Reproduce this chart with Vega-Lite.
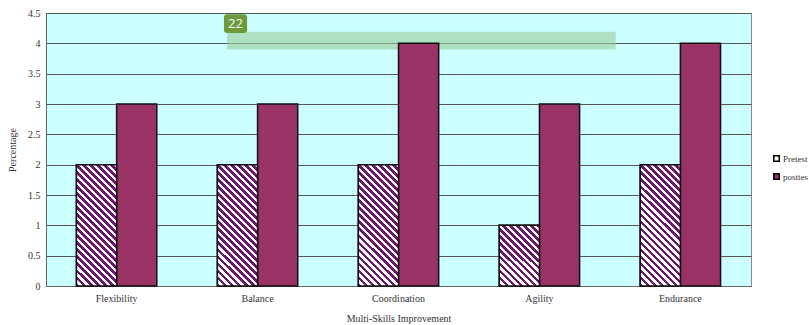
{
  "$schema": "https://vega.github.io/schema/vega-lite/v6.json",
  "width": 705,
  "height": 273,
  "autosize": "none",
  "padding": {"left": 46, "top": 13, "right": 58, "bottom": 39},
  "background": "#ffffff",
  "config": {
    "view": {"fill": "#ccffff", "stroke": "#888888", "strokeWidth": 1},
    "font": "Liberation Serif",
    "axis": {"labelFont": "Liberation Serif", "titleFont": "Liberation Serif", "labelFontSize": 10, "titleFontSize": 10, "titleFontWeight": "normal", "labelColor": "#333333", "titleColor": "#333333"},
    "axisY": {"tickCount": 9, "format": "~g", "ticks": false, "labelPadding": 6, "titlePadding": 10, "grid": true, "gridColor": "#555555", "gridWidth": 1, "gridOpacity": 1, "domainColor": "#666666"},
    "legend": {"labelFont": "Liberation Serif", "labelFontSize": 9, "labelColor": "#333333"}
  },
  "datasets": {
    "skills": [
      {"skill": "Flexibility", "series": "Pretest", "value": 2},
      {"skill": "Flexibility", "series": "posttes", "value": 3},
      {"skill": "Balance", "series": "Pretest", "value": 2},
      {"skill": "Balance", "series": "posttes", "value": 3},
      {"skill": "Coordination", "series": "Pretest", "value": 2},
      {"skill": "Coordination", "series": "posttes", "value": 4},
      {"skill": "Agility", "series": "Pretest", "value": 1},
      {"skill": "Agility", "series": "posttes", "value": 3},
      {"skill": "Endurance", "series": "Pretest", "value": 2},
      {"skill": "Endurance", "series": "posttes", "value": 4}
    ],
    "note": [{"label": "22"}]
  },
  "layer": [
    {
      "data": {"name": "note"},
      "layer": [
        {
          "mark": {"type": "rect", "fill": "#99cc99", "opacity": 0.6},
          "encoding": {
            "x": {"datum": 1.284, "type": "quantitative", "scale": {"domain": [0, 5]}, "axis": null},
            "x2": {"datum": 4.04},
            "y": {"datum": 3.9, "type": "quantitative", "scale": {"domain": [0, 4.5]}, "title": "Percentage"},
            "y2": {"datum": 4.19}
          }
        },
        {
          "mark": {"type": "rect", "fill": "#6b9a3a", "cornerRadius": 3},
          "encoding": {
            "x": {"datum": 1.262, "type": "quantitative", "scale": {"domain": [0, 5]}, "axis": null},
            "x2": {"datum": 1.426},
            "y": {"datum": 4.17, "type": "quantitative", "scale": {"domain": [0, 4.5]}, "title": "Percentage"},
            "y2": {"datum": 4.48}
          }
        },
        {
          "mark": {"type": "text", "font": "Open Sans", "fontSize": 13, "color": "#ffffff", "align": "center", "baseline": "middle"},
          "encoding": {
            "x": {"datum": 1.344, "type": "quantitative", "scale": {"domain": [0, 5]}, "axis": null},
            "y": {"datum": 4.325, "type": "quantitative", "scale": {"domain": [0, 4.5]}, "title": "Percentage"},
            "text": {"field": "label"}
          }
        }
      ]
    },
    {
      "data": {"name": "skills"},
      "layer": [
        {
          "mark": {"type": "bar", "stroke": "#111111", "strokeWidth": 1.5},
          "encoding": {
            "x": {"field": "skill", "type": "nominal", "scale": {"domain": ["Flexibility", "Balance", "Coordination", "Agility", "Endurance"], "paddingInner": 0.43, "paddingOuter": 0.216}, "axis": {"title": "Multi-Skills Improvement", "labelAngle": 0, "ticks": false, "labelPadding": 7, "titlePadding": 10, "domainColor": "#666666"}},
            "xOffset": {"field": "series", "type": "nominal", "scale": {"domain": ["Pretest", "posttes"], "paddingInner": 0}},
            "y": {"field": "value", "type": "quantitative", "scale": {"domain": [0, 4.5]}, "title": "Percentage"},
            "color": {"field": "series", "type": "nominal", "scale": {"domain": ["Pretest", "posttes"], "range": ["#ffffff", "#993366"]}, "legend": {"title": null, "orient": "none", "legendX": 726, "legendY": 141, "symbolType": "square", "symbolSize": 30, "symbolStrokeColor": "#000000", "symbolStrokeWidth": 1.5, "rowPadding": 5, "labelOffset": 2, "labelFont": "Liberation Serif", "labelFontSize": 9, "labelColor": "#333333"}}
          }
        },
        {
          "transform": [{"filter": "datum.series == 'Pretest' && datum.value == 2"}],
          "mark": {"type": "bar", "stroke": "#111111", "strokeWidth": 1.5,
            "fill": {"gradient": "linear", "x1": 0, "y1": 1, "x2": 0.3965, "y2": -0.1995, "stops": [
              {"offset": 0, "color": "#6b1a6b"}, {"offset": 0.0217, "color": "#6b1a6b"},
              {"offset": 0.0217, "color": "#ffffff"}, {"offset": 0.0435, "color": "#ffffff"},
              {"offset": 0.0435, "color": "#6b1a6b"}, {"offset": 0.0652, "color": "#6b1a6b"},
              {"offset": 0.0652, "color": "#ffffff"}, {"offset": 0.0870, "color": "#ffffff"},
              {"offset": 0.0870, "color": "#6b1a6b"}, {"offset": 0.1087, "color": "#6b1a6b"},
              {"offset": 0.1087, "color": "#ffffff"}, {"offset": 0.1304, "color": "#ffffff"},
              {"offset": 0.1304, "color": "#6b1a6b"}, {"offset": 0.1522, "color": "#6b1a6b"},
              {"offset": 0.1522, "color": "#ffffff"}, {"offset": 0.1739, "color": "#ffffff"},
              {"offset": 0.1739, "color": "#6b1a6b"}, {"offset": 0.1957, "color": "#6b1a6b"},
              {"offset": 0.1957, "color": "#ffffff"}, {"offset": 0.2174, "color": "#ffffff"},
              {"offset": 0.2174, "color": "#6b1a6b"}, {"offset": 0.2391, "color": "#6b1a6b"},
              {"offset": 0.2391, "color": "#ffffff"}, {"offset": 0.2609, "color": "#ffffff"},
              {"offset": 0.2609, "color": "#6b1a6b"}, {"offset": 0.2826, "color": "#6b1a6b"},
              {"offset": 0.2826, "color": "#ffffff"}, {"offset": 0.3043, "color": "#ffffff"},
              {"offset": 0.3043, "color": "#6b1a6b"}, {"offset": 0.3261, "color": "#6b1a6b"},
              {"offset": 0.3261, "color": "#ffffff"}, {"offset": 0.3478, "color": "#ffffff"},
              {"offset": 0.3478, "color": "#6b1a6b"}, {"offset": 0.3696, "color": "#6b1a6b"},
              {"offset": 0.3696, "color": "#ffffff"}, {"offset": 0.3913, "color": "#ffffff"},
              {"offset": 0.3913, "color": "#6b1a6b"}, {"offset": 0.4130, "color": "#6b1a6b"},
              {"offset": 0.4130, "color": "#ffffff"}, {"offset": 0.4348, "color": "#ffffff"},
              {"offset": 0.4348, "color": "#6b1a6b"}, {"offset": 0.4565, "color": "#6b1a6b"},
              {"offset": 0.4565, "color": "#ffffff"}, {"offset": 0.4783, "color": "#ffffff"},
              {"offset": 0.4783, "color": "#6b1a6b"}, {"offset": 0.5, "color": "#6b1a6b"},
              {"offset": 0.5, "color": "#ffffff"}, {"offset": 0.5217, "color": "#ffffff"},
              {"offset": 0.5217, "color": "#6b1a6b"}, {"offset": 0.5435, "color": "#6b1a6b"},
              {"offset": 0.5435, "color": "#ffffff"}, {"offset": 0.5652, "color": "#ffffff"},
              {"offset": 0.5652, "color": "#6b1a6b"}, {"offset": 0.5870, "color": "#6b1a6b"},
              {"offset": 0.5870, "color": "#ffffff"}, {"offset": 0.6087, "color": "#ffffff"},
              {"offset": 0.6087, "color": "#6b1a6b"}, {"offset": 0.6304, "color": "#6b1a6b"},
              {"offset": 0.6304, "color": "#ffffff"}, {"offset": 0.6522, "color": "#ffffff"},
              {"offset": 0.6522, "color": "#6b1a6b"}, {"offset": 0.6739, "color": "#6b1a6b"},
              {"offset": 0.6739, "color": "#ffffff"}, {"offset": 0.6957, "color": "#ffffff"},
              {"offset": 0.6957, "color": "#6b1a6b"}, {"offset": 0.7174, "color": "#6b1a6b"},
              {"offset": 0.7174, "color": "#ffffff"}, {"offset": 0.7391, "color": "#ffffff"},
              {"offset": 0.7391, "color": "#6b1a6b"}, {"offset": 0.7609, "color": "#6b1a6b"},
              {"offset": 0.7609, "color": "#ffffff"}, {"offset": 0.7826, "color": "#ffffff"},
              {"offset": 0.7826, "color": "#6b1a6b"}, {"offset": 0.8043, "color": "#6b1a6b"},
              {"offset": 0.8043, "color": "#ffffff"}, {"offset": 0.8261, "color": "#ffffff"},
              {"offset": 0.8261, "color": "#6b1a6b"}, {"offset": 0.8478, "color": "#6b1a6b"},
              {"offset": 0.8478, "color": "#ffffff"}, {"offset": 0.8696, "color": "#ffffff"},
              {"offset": 0.8696, "color": "#6b1a6b"}, {"offset": 0.8913, "color": "#6b1a6b"},
              {"offset": 0.8913, "color": "#ffffff"}, {"offset": 0.9130, "color": "#ffffff"},
              {"offset": 0.9130, "color": "#6b1a6b"}, {"offset": 0.9348, "color": "#6b1a6b"},
              {"offset": 0.9348, "color": "#ffffff"}, {"offset": 0.9565, "color": "#ffffff"},
              {"offset": 0.9565, "color": "#6b1a6b"}, {"offset": 0.9783, "color": "#6b1a6b"},
              {"offset": 0.9783, "color": "#ffffff"}, {"offset": 1, "color": "#ffffff"}
            ]}},
          "encoding": {
            "x": {"field": "skill", "type": "nominal", "scale": {"domain": ["Flexibility", "Balance", "Coordination", "Agility", "Endurance"], "paddingInner": 0.43, "paddingOuter": 0.216}},
            "xOffset": {"field": "series", "type": "nominal", "scale": {"domain": ["Pretest", "posttes"], "paddingInner": 0}},
            "y": {"field": "value", "type": "quantitative", "title": "Percentage"}
          }
        },
        {
          "transform": [{"filter": "datum.series == 'Pretest' && datum.value == 1"}],
          "mark": {"type": "bar", "stroke": "#111111", "strokeWidth": 1.5,
            "fill": {"gradient": "linear", "x1": 0, "y1": 1, "x2": 0.7593, "y2": -0.1579, "stops": [
              {"offset": 0, "color": "#6b1a6b"}, {"offset": 0.0345, "color": "#6b1a6b"},
              {"offset": 0.0345, "color": "#ffffff"}, {"offset": 0.0690, "color": "#ffffff"},
              {"offset": 0.0690, "color": "#6b1a6b"}, {"offset": 0.1034, "color": "#6b1a6b"},
              {"offset": 0.1034, "color": "#ffffff"}, {"offset": 0.1379, "color": "#ffffff"},
              {"offset": 0.1379, "color": "#6b1a6b"}, {"offset": 0.1724, "color": "#6b1a6b"},
              {"offset": 0.1724, "color": "#ffffff"}, {"offset": 0.2069, "color": "#ffffff"},
              {"offset": 0.2069, "color": "#6b1a6b"}, {"offset": 0.2414, "color": "#6b1a6b"},
              {"offset": 0.2414, "color": "#ffffff"}, {"offset": 0.2759, "color": "#ffffff"},
              {"offset": 0.2759, "color": "#6b1a6b"}, {"offset": 0.3103, "color": "#6b1a6b"},
              {"offset": 0.3103, "color": "#ffffff"}, {"offset": 0.3448, "color": "#ffffff"},
              {"offset": 0.3448, "color": "#6b1a6b"}, {"offset": 0.3793, "color": "#6b1a6b"},
              {"offset": 0.3793, "color": "#ffffff"}, {"offset": 0.4138, "color": "#ffffff"},
              {"offset": 0.4138, "color": "#6b1a6b"}, {"offset": 0.4483, "color": "#6b1a6b"},
              {"offset": 0.4483, "color": "#ffffff"}, {"offset": 0.4828, "color": "#ffffff"},
              {"offset": 0.4828, "color": "#6b1a6b"}, {"offset": 0.5172, "color": "#6b1a6b"},
              {"offset": 0.5172, "color": "#ffffff"}, {"offset": 0.5517, "color": "#ffffff"},
              {"offset": 0.5517, "color": "#6b1a6b"}, {"offset": 0.5862, "color": "#6b1a6b"},
              {"offset": 0.5862, "color": "#ffffff"}, {"offset": 0.6207, "color": "#ffffff"},
              {"offset": 0.6207, "color": "#6b1a6b"}, {"offset": 0.6552, "color": "#6b1a6b"},
              {"offset": 0.6552, "color": "#ffffff"}, {"offset": 0.6897, "color": "#ffffff"},
              {"offset": 0.6897, "color": "#6b1a6b"}, {"offset": 0.7241, "color": "#6b1a6b"},
              {"offset": 0.7241, "color": "#ffffff"}, {"offset": 0.7586, "color": "#ffffff"},
              {"offset": 0.7586, "color": "#6b1a6b"}, {"offset": 0.7931, "color": "#6b1a6b"},
              {"offset": 0.7931, "color": "#ffffff"}, {"offset": 0.8276, "color": "#ffffff"},
              {"offset": 0.8276, "color": "#6b1a6b"}, {"offset": 0.8621, "color": "#6b1a6b"},
              {"offset": 0.8621, "color": "#ffffff"}, {"offset": 0.8966, "color": "#ffffff"},
              {"offset": 0.8966, "color": "#6b1a6b"}, {"offset": 0.9310, "color": "#6b1a6b"},
              {"offset": 0.9310, "color": "#ffffff"}, {"offset": 0.9655, "color": "#ffffff"},
              {"offset": 0.9655, "color": "#6b1a6b"}, {"offset": 1, "color": "#6b1a6b"}
            ]}},
          "encoding": {
            "x": {"field": "skill", "type": "nominal", "scale": {"domain": ["Flexibility", "Balance", "Coordination", "Agility", "Endurance"], "paddingInner": 0.43, "paddingOuter": 0.216}},
            "xOffset": {"field": "series", "type": "nominal", "scale": {"domain": ["Pretest", "posttes"], "paddingInner": 0}},
            "y": {"field": "value", "type": "quantitative", "title": "Percentage"}
          }
        }
      ]
    }
  ],
  "resolve": {"scale": {"x": "independent"}}
}
